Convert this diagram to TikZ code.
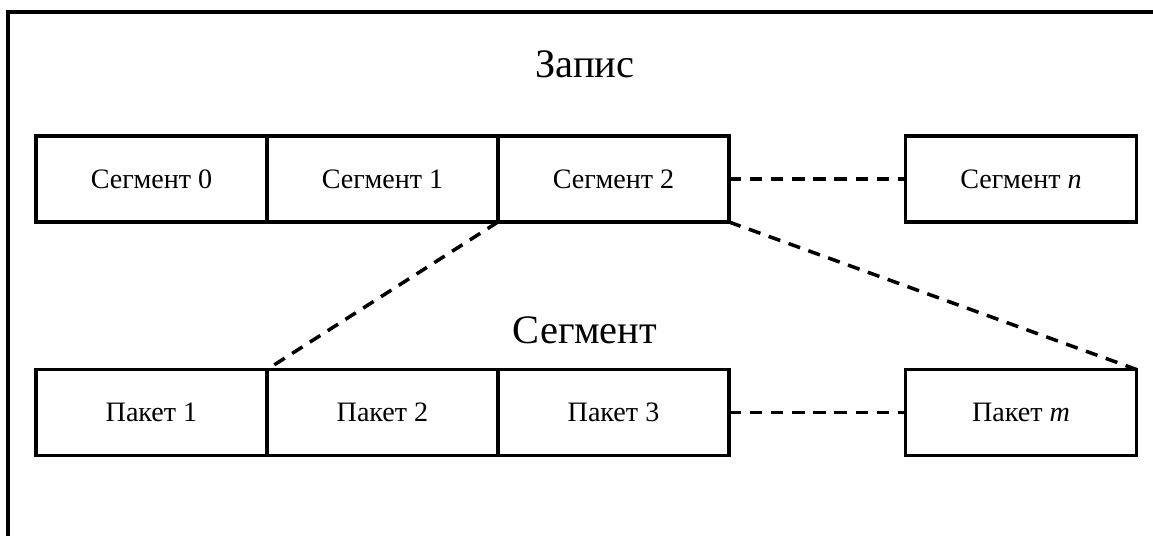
\documentclass[tikz,border=0pt]{standalone}
\usepackage{fontspec}
\setmainfont{Liberation Serif}
\usetikzlibrary{positioning}
\tikzset{
  block/.style  = {draw, line width=2pt, minimum width=4.62cm,
                   minimum height=1.72cm, inner sep=0pt, outer sep=0pt,
                   font=\fontsize{16}{19}\selectfont},
  title/.style  = {font=\fontsize{23}{27}\selectfont},
  gapln/.style  = {line width=2pt, dash pattern=on 7pt off 5pt}
}

\begin{document}
\begin{tikzpicture}
\useasboundingbox (0,0) rectangle (23.06,10.72);
\draw[line width=2pt] (0.16,0) -- (0.16,10.48) -- (23.06,10.48);

\node[title] (rec) at (11.7,9.44) {Запис};
\node[block] (s0) at (3.03,7.14) {Сегмент 0};
\node[block, right=0pt of s0] (s1) {Сегмент 1};
\node[block, right=0pt of s1] (s2) {Сегмент 2};
\node[block] (sn) at (20.42,7.14) {Сегмент \textit{n}};

\node[title] (seg) at (11.7,4.12) {Сегмент};
\node[block] (p1) at (3.03,2.47) {Пакет 1};
\node[block, right=0pt of p1] (p2) {Пакет 2};
\node[block, right=0pt of p2] (p3) {Пакет 3};
\node[block] (pm) at (20.42,2.47) {Пакет \textit{m}};

\draw[gapln] (s2.east) -- (sn.west);
\draw[gapln] (p3.east) -- (pm.west);
\draw[gapln] (s2.south west) -- (p1.north east);
\draw[gapln] (s2.south east) -- (pm.north east);
\end{tikzpicture}
\end{document}
